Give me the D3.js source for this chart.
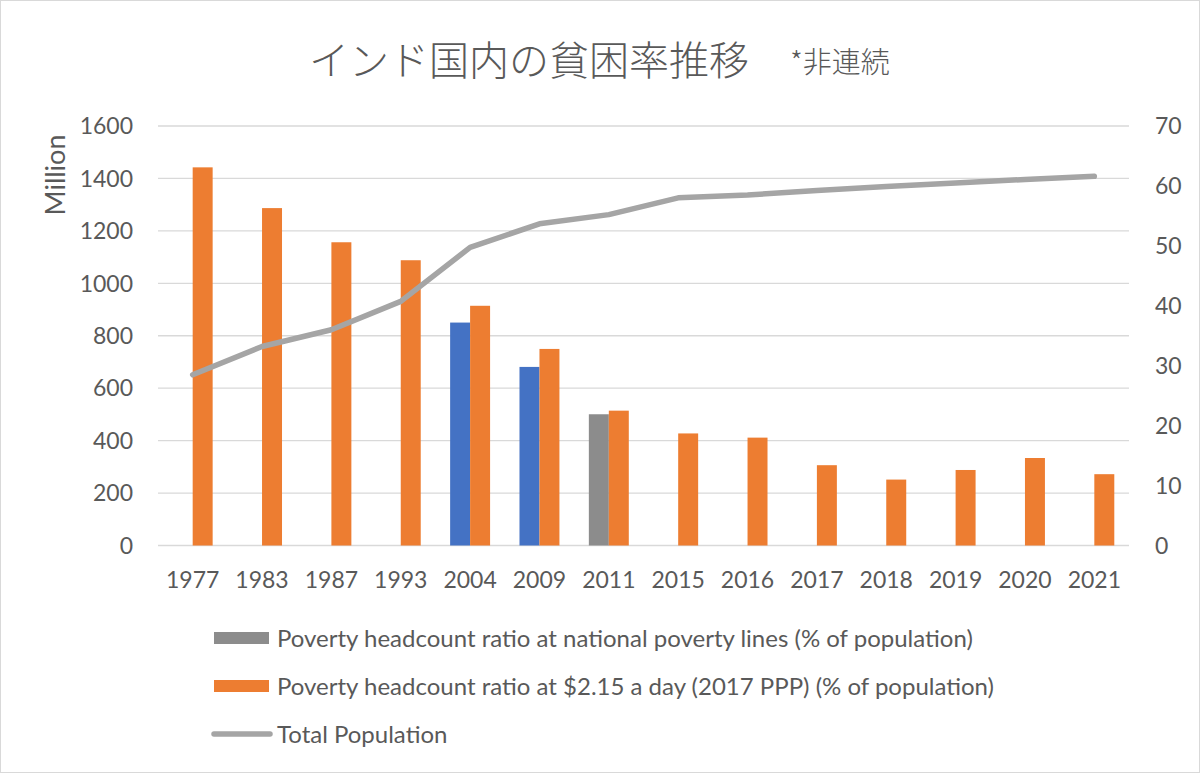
<!DOCTYPE html>
<html>
<head>
  <meta charset="utf-8">
  <script src="https://d3js.org/d3.v7.min.js"></script>
  <style>
    body { margin: 0; background: #fff; }
    text { font-family: Lato, "Open Sans", sans-serif; fill: #595959; }
    .title { font-family: "Noto Sans CJK JP", sans-serif; font-weight: 300; }
  </style>
</head>
<body>
<script>
  "use strict";

  // categories (not continuous years)
  var years = ["1977", "1983", "1987", "1993", "2004", "2009", "2011",
               "2015", "2016", "2017", "2018", "2019", "2020", "2021"];

  // % of population, national poverty lines (only three surveys)
  var nationalLines = [null, null, null, null, 37.2, 29.8, 21.9,
                       null, null, null, null, null, null, null];
  // the 2011 point is drawn grey in the original
  var nationalColors = ["#4472c4", "#4472c4", "#4472c4", "#4472c4", "#4472c4", "#4472c4", "#8c8c8c",
                        "#4472c4", "#4472c4", "#4472c4", "#4472c4", "#4472c4", "#4472c4", "#4472c4"];

  // % of population, $2.15 a day (2017 PPP)
  var ppp215 = [63.1, 56.3, 50.6, 47.6, 40.0, 32.8, 22.5,
                18.7, 18.0, 13.4, 11.0, 12.6, 14.6, 11.9];

  // total population, million
  var population = [651, 759, 823, 931, 1137, 1227, 1262,
                    1326, 1337, 1354, 1369, 1383, 1396, 1408];

  var leftTicks = [0, 200, 400, 600, 800, 1000, 1200, 1400, 1600];
  var rightTicks = [0, 10, 20, 30, 40, 50, 60, 70];

  var legendLabels = [
    "Poverty headcount ratio at national poverty lines (% of population)",
    "Poverty headcount ratio at $2.15 a day (2017 PPP) (% of population)",
    "Total Population"
  ];

  var width = 1200,
      height = 773,
      plot = {left: 158, right: 1129, top: 126, bottom: 545.5};

  var svg = d3.select("body")
    .append("svg")
      .attr("width", width)
      .attr("height", height);

  // chart area border
  svg.append("rect")
    .attr("x", 0.5).attr("y", 0.5)
    .attr("width", width - 1).attr("height", height - 1)
    .attr("fill", "#fff")
    .attr("stroke", "#d9d9d9");

  var x = d3.scaleBand()
    .domain(years)
    .range([plot.left, plot.right])
    .padding(0);

  var yLeft = d3.scaleLinear().domain([0, 1600]).range([plot.bottom, plot.top]);
  var yRight = d3.scaleLinear().domain([0, 70]).range([plot.bottom, plot.top]);

  var barW = x.bandwidth() * 0.288;
  var center = function (d) { return x(d) + x.bandwidth() / 2; };

  // gridlines
  svg.append("g")
    .selectAll("line")
    .data(leftTicks)
    .enter()
    .append("line")
      .attr("x1", plot.left)
      .attr("x2", plot.right)
      .attr("y1", function (d) { return yLeft(d); })
      .attr("y2", function (d) { return yLeft(d); })
      .attr("stroke", "#d9d9d9")
      .attr("stroke-width", 1.3);

  // left axis labels
  svg.append("g")
    .selectAll("text")
    .data(leftTicks)
    .enter()
    .append("text")
      .attr("x", 133)
      .attr("y", function (d) { return yLeft(d); })
      .attr("dy", "0.36em")
      .attr("text-anchor", "end")
      .style("font-size", "23px")
      .text(function (d) { return d; });

  // right axis labels
  svg.append("g")
    .selectAll("text")
    .data(rightTicks)
    .enter()
    .append("text")
      .attr("x", 1155)
      .attr("y", function (d) { return yRight(d); })
      .attr("dy", "0.36em")
      .attr("text-anchor", "start")
      .style("font-size", "23px")
      .text(function (d) { return d; });

  // category labels
  svg.append("g")
    .selectAll("text")
    .data(years)
    .enter()
    .append("text")
      .attr("x", center)
      .attr("y", 588)
      .attr("text-anchor", "middle")
      .style("font-size", "23px")
      .text(function (d) { return d; });

  // axis title
  svg.append("text")
    .attr("transform", "translate(65,175) rotate(-90)")
    .attr("text-anchor", "middle")
    .style("font-size", "27px")
    .text("Million");

  // bars: national poverty lines (left of center)
  svg.append("g")
    .selectAll("rect")
    .data(years.filter(function (d, i) { return nationalLines[i] !== null; }))
    .enter()
    .append("rect")
      .attr("x", function (d) { return center(d) - barW; })
      .attr("y", function (d) { return yRight(nationalLines[years.indexOf(d)]); })
      .attr("width", barW)
      .attr("height", function (d) { return plot.bottom - yRight(nationalLines[years.indexOf(d)]); })
      .attr("fill", function (d) { return nationalColors[years.indexOf(d)]; });

  // bars: $2.15 a day (right of center)
  svg.append("g")
    .selectAll("rect")
    .data(years)
    .enter()
    .append("rect")
      .attr("x", function (d) { return center(d); })
      .attr("y", function (d, i) { return yRight(ppp215[i]); })
      .attr("width", barW)
      .attr("height", function (d, i) { return plot.bottom - yRight(ppp215[i]); })
      .attr("fill", "#ed7d31");

  // population line
  var line = d3.line()
    .x(function (d, i) { return center(years[i]); })
    .y(function (d) { return yLeft(d); });

  svg.append("path")
    .datum(population)
    .attr("d", line)
    .attr("fill", "none")
    .attr("stroke", "#a5a5a5")
    .attr("stroke-width", 5.5)
    .attr("stroke-linecap", "round")
    .attr("stroke-linejoin", "round");

  // title
  svg.append("text")
    .attr("class", "title")
    .attr("x", 309)
    .attr("y", 58)
    .attr("dominant-baseline", "central")
    .style("font-size", "40px")
    .text("インド国内の貧困率推移");

  svg.append("text")
    .attr("class", "title")
    .attr("x", 790)
    .attr("y", 60)
    .attr("dominant-baseline", "central")
    .style("font-size", "29px")
    .text("*非連続");

  // legend
  var legendY = [638, 686, 734];
  var legend = svg.append("g");

  legend.append("rect")
    .attr("x", 214).attr("y", legendY[0] - 6)
    .attr("width", 55).attr("height", 12)
    .attr("fill", "#8c8c8c");

  legend.append("rect")
    .attr("x", 214).attr("y", legendY[1] - 6)
    .attr("width", 55).attr("height", 12)
    .attr("fill", "#ed7d31");

  legend.append("line")
    .attr("x1", 214).attr("x2", 270)
    .attr("y1", legendY[2]).attr("y2", legendY[2])
    .attr("stroke", "#a5a5a5")
    .attr("stroke-width", 5.5)
    .attr("stroke-linecap", "round");

  legend.selectAll("text")
    .data(legendLabels)
    .enter()
    .append("text")
      .attr("x", 277)
      .attr("y", function (d, i) { return legendY[i]; })
      .attr("dy", "0.36em")
      .style("font-size", "24px")
      .text(function (d) { return d; });
</script>
</body>
</html>
